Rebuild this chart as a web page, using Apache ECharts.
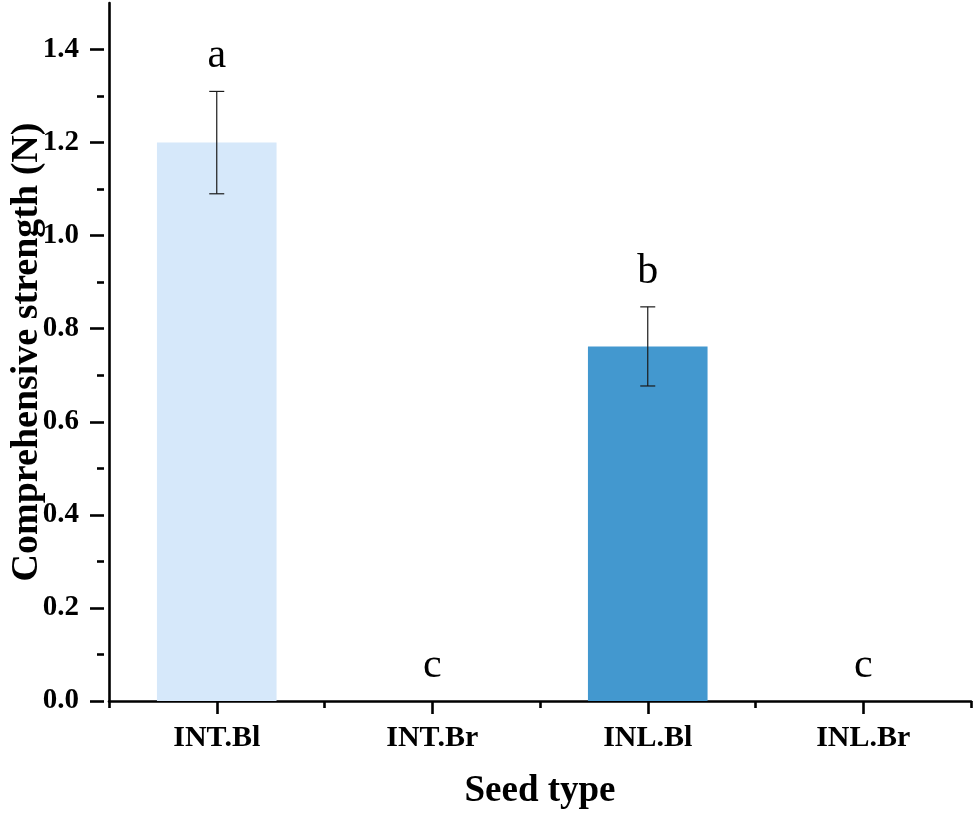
<!DOCTYPE html>
<html>
<head>
<meta charset="utf-8">
<script src="https://cdn.jsdelivr.net/npm/echarts@6/dist/echarts.min.js"></script>
<style>
html,body{margin:0;padding:0;background:#fff;}
#chart{width:975px;height:818px;}
</style>
</head>
<body>
<div id="chart"></div>
<script>
// ---- data ----
const categories = ['INT.Bl', 'INT.Br', 'INL.Bl', 'INL.Br'];
const means = [1.2, 0, 0.762, 0];
const errors = [0.11, 0, 0.085, 0];
const letters = ['a', 'c', 'b', 'c'];
const barColors = ['#D6E8FA', '#D6E8FA', '#4398CF', '#4398CF'];
const yTickMax = 1.4;
const yAxisMax = 1.5;
const yTickStep = 0.2;

const FONT = "'Liberation Serif','Times New Roman',Times,serif";
const AXIS_W = 2.6;

const chart = echarts.init(document.getElementById('chart'), null, {renderer: 'canvas'});

const gridTop = 3, gridBottom = 117, gridLeft = 104, gridRight = 4;
const plotH = 818 - gridTop - gridBottom;
const tickGridTop = gridTop + plotH * (yAxisMax - yTickMax) / yAxisMax;

const option = {
  backgroundColor: '#fff',
  animation: false,
  grid: [
    {left: gridLeft, right: gridRight, top: gridTop, bottom: gridBottom, containLabel: false},
    {left: gridLeft, right: gridRight, top: tickGridTop, bottom: gridBottom, containLabel: false}
  ],
  xAxis: [
    {
      type: 'category', gridIndex: 0, data: categories, boundaryGap: true,
      name: 'Seed type', nameLocation: 'middle', nameGap: 72,
      nameTextStyle: {fontFamily: FONT, fontWeight: 'bold', fontSize: 37, color: '#000'},
      axisLine: {show: true, lineStyle: {color: '#000', width: AXIS_W}},
      axisTick: {show: true, alignWithLabel: true, length: 13, lineStyle: {color: '#000', width: AXIS_W}},
      axisLabel: {show: true, margin: 22, fontFamily: FONT, fontWeight: 'bold', fontSize: 30, color: '#000'},
      splitLine: {show: false}
    },
    {
      type: 'category', gridIndex: 0, data: categories, boundaryGap: true, position: 'bottom',
      axisLine: {show: false},
      axisTick: {show: true, alignWithLabel: false, length: 7, lineStyle: {color: '#000', width: AXIS_W}},
      axisLabel: {show: false},
      splitLine: {show: false}
    },
    {
      type: 'category', gridIndex: 1, data: categories, show: false
    }
  ],
  yAxis: [
    {
      type: 'value', gridIndex: 0, min: 0, max: yAxisMax,
      name: 'Comprehensive strength (N)', nameLocation: 'middle', nameGap: 63, nameRotate: 90,
      nameTextStyle: {fontFamily: FONT, fontWeight: 'bold', fontSize: 38, color: '#000'},
      axisLine: {show: true, lineStyle: {color: '#000', width: AXIS_W}},
      axisTick: {show: false},
      axisLabel: {show: false},
      splitLine: {show: false}
    },
    {
      type: 'value', gridIndex: 1, min: 0, max: yTickMax, interval: yTickStep,
      axisLine: {show: false},
      axisTick: {show: true, length: 14, lineStyle: {color: '#000', width: AXIS_W}},
      minorTick: {show: true, splitNumber: 2, length: 7, lineStyle: {color: '#000', width: AXIS_W}},
      axisLabel: {show: true, margin: 25, fontFamily: FONT, fontWeight: 'bold', fontSize: 29, color: '#000',
        formatter: v => v.toFixed(1)},
      splitLine: {show: false},
      minorSplitLine: {show: false}
    }
  ],
  series: [
    {
      type: 'bar', xAxisIndex: 0, yAxisIndex: 0, barWidth: '55.5%',
      data: means.map((v, i) => ({value: v, itemStyle: {color: barColors[i]}})),
      z: 2
    },
    {
      type: 'custom', xAxisIndex: 0, yAxisIndex: 0, z: 5,
      data: means.map((v, i) => [i, v, errors[i]]),
      renderItem: function (params, api) {
        const i = api.value(0), m = api.value(1), e = api.value(2);
        const top = api.coord([i, m + e]);
        const bot = api.coord([i, m - e]);
        const x = top[0];
        const cap = 7.5;
        const children = [];
        const ls = {stroke: '#1a1a1a', lineWidth: 1.2};
        if (e > 0) {
          children.push({type: 'line', shape: {x1: x, y1: top[1], x2: x, y2: bot[1]}, style: ls});
          children.push({type: 'line', shape: {x1: x - cap, y1: top[1], x2: x + cap, y2: top[1]}, style: ls});
          children.push({type: 'line', shape: {x1: x - cap, y1: bot[1], x2: x + cap, y2: bot[1]}, style: ls});
        }
        children.push({
          type: 'text',
          style: {
            text: letters[params.dataIndex], x: x, y: top[1] - 14,
            textAlign: 'center', textVerticalAlign: 'bottom',
            font: '42px ' + FONT, fill: '#000'
          }
        });
        return {type: 'group', children: children};
      }
    }
  ]
};
chart.setOption(option);
</script>
</body>
</html>
